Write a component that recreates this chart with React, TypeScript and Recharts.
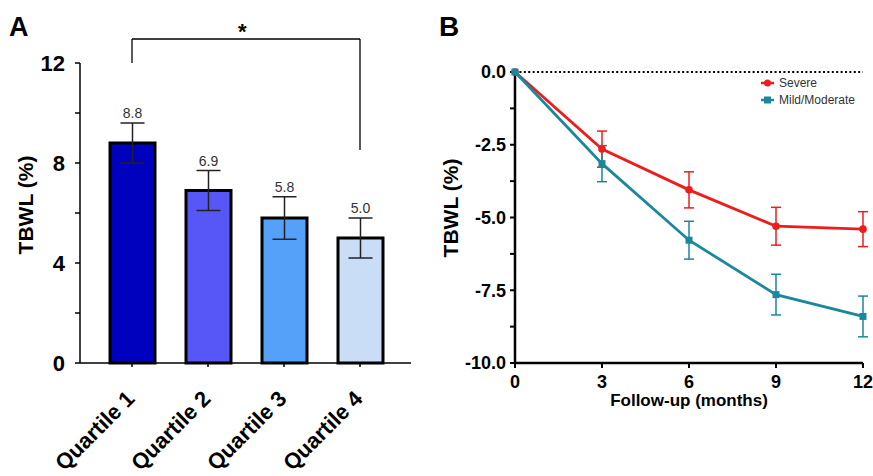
import React from "react";
import {
  BarChart,
  Bar,
  Cell,
  XAxis,
  YAxis,
  ErrorBar,
  LabelList,
  ReferenceLine,
  LineChart,
  Line,
  Legend,
} from "recharts";

// Panel A
const quartiles = ["Quartile 1", "Quartile 2", "Quartile 3", "Quartile 4"];
const tbwlMeans = [8.8, 6.9, 5.8, 5.0];
const tbwlErrors = [0.8, 0.8, 0.85, 0.8];
const barColors = ["#0000BF", "#5757F7", "#55A0F9", "#C9DDF6"];
const barTicks = [0, 2, 4, 6, 8, 10, 12];

// Panel B
const months = [0, 3, 6, 9, 12];
const severeMeans = [0, -2.65, -4.05, -5.3, -5.4];
const severeErrors = [0, 0.62, 0.62, 0.65, 0.6];
const mildMeans = [0, -3.15, -5.78, -7.65, -8.4];
const mildErrors = [0, 0.62, 0.65, 0.7, 0.7];
const lineYTicks = [0, -1.25, -2.5, -3.75, -5, -6.25, -7.5, -8.75, -10];

const FONT = "'Liberation Sans', Arial, Helvetica, sans-serif";
const RED = "#EE1C1C";
const TEAL = "#1A879C";

const barData = quartiles.map((q, i) => ({
  name: q,
  value: tbwlMeans[i],
  err: tbwlErrors[i],
}));

const lineData = months.map((m, i) => ({
  month: m,
  severe: severeMeans[i],
  severeErr: severeErrors[i],
  mild: mildMeans[i],
  mildErr: mildErrors[i],
}));

const QuartileTick = ({ x, y, payload }: any) => (
  <text
    x={x + 4}
    y={y + 31}
    transform={`rotate(-45, ${x + 4}, ${y + 31})`}
    textAnchor="end"
    fontFamily={FONT}
    fontWeight="bold"
    fontSize={22}
    fill="#000"
  >
    {payload.value}
  </text>
);

// value label sits just above the error bar cap
const ValueLabel = (props: any) => {
  const { x, y, width, height, value, index } = props;
  const pxPerUnit = height / value;
  const capY = y - tbwlErrors[index] * pxPerUnit;
  return (
    <text
      x={x + width / 2}
      y={capY - 5}
      textAnchor="middle"
      fontFamily={FONT}
      fontSize={14}
      fill="#333"
    >
      {value.toFixed(1)}
    </text>
  );
};

const SquareDot = (props: any) => {
  const { cx, cy, index } = props;
  return <rect key={index} x={cx - 3.5} y={cy - 3.5} width={7} height={7} fill={TEAL} />;
};

const RoundDot = (props: any) => {
  const { cx, cy, index } = props;
  return <circle key={index} cx={cx} cy={cy} r={3.8} fill={RED} />;
};

const LegendContent = ({ payload }: any) => {
  const items = [...(payload || [])].sort((a: any, b: any) =>
    a.dataKey === "severe" ? -1 : b.dataKey === "severe" ? 1 : 0
  );
  return (
    <div style={{ fontFamily: FONT, fontSize: 12, color: "#333" }}>
      {items.map((entry: any) => (
        <div key={entry.value} style={{ display: "flex", alignItems: "center", height: 17 }}>
          <svg width={16} height={10} style={{ marginRight: 3 }}>
            <line x1={1} y1={5} x2={14} y2={5} stroke={entry.color} strokeWidth={2.5} />
            {entry.dataKey === "severe" ? (
              <circle cx={7.5} cy={5} r={3.5} fill={entry.color} />
            ) : (
              <rect x={4} y={1.5} width={7} height={7} fill={entry.color} />
            )}
          </svg>
          <span>{entry.value}</span>
        </div>
      ))}
    </div>
  );
};

const abs = (left: number, top: number, style: React.CSSProperties = {}): React.CSSProperties => ({
  position: "absolute",
  left,
  top,
  fontFamily: FONT,
  fontWeight: "bold",
  color: "#000",
  whiteSpace: "nowrap",
  lineHeight: 1,
  ...style,
});

export default function App() {
  return (
    <div
      style={{
        position: "absolute",
        left: 0,
        top: 0,
        width: 873,
        height: 476,
        background: "#fff",
        overflow: "hidden",
      }}
    >
      <div style={{ position: "absolute", left: 0, top: 0 }}>
        <BarChart
          width={440}
          height={476}
          data={barData}
          margin={{ top: 63, right: 29, left: 0, bottom: 0 }}
        >
          <XAxis
            dataKey="name"
            height={113}
            padding={{ left: 14, right: 13 }}
            axisLine={{ stroke: "#000", strokeWidth: 1.5 }}
            tickLine={{ stroke: "#000", strokeWidth: 1.5 }}
            tickSize={4}
            tick={<QuartileTick />}
            interval={0}
          />
          <YAxis
            domain={[0, 12]}
            ticks={barTicks}
            width={80}
            axisLine={{ stroke: "#000", strokeWidth: 1.5 }}
            tickLine={{ stroke: "#000", strokeWidth: 1.5 }}
            tickSize={5}
            tickMargin={10}
            tickFormatter={(v: number) => (v % 4 === 0 ? String(v) : "")}
            tick={{ fill: "#000", fontSize: 22, fontWeight: "bold", fontFamily: FONT }}
          />
          <ReferenceLine
            segment={[
              { x: "Quartile 1", y: 12 },
              { x: "Quartile 1", y: 12.96 },
            ]}
            stroke="#000"
            strokeWidth={1.3}
            ifOverflow="visible"
          />
          <ReferenceLine
            segment={[
              { x: "Quartile 1", y: 12.96 },
              { x: "Quartile 4", y: 12.96 },
            ]}
            stroke="#000"
            strokeWidth={1.3}
            ifOverflow="visible"
          />
          <ReferenceLine
            segment={[
              { x: "Quartile 4", y: 12.96 },
              { x: "Quartile 4", y: 8.52 },
            ]}
            stroke="#000"
            strokeWidth={1.3}
            ifOverflow="visible"
          />
          <Bar dataKey="value" barSize={45} stroke="#000" strokeWidth={3} isAnimationActive={false}>
            {barData.map((d, i) => (
              <Cell key={d.name} fill={barColors[i]} />
            ))}
            <ErrorBar dataKey="err" width={12} stroke="#222" strokeWidth={1.5} direction="y" />
            <LabelList dataKey="value" content={<ValueLabel />} />
          </Bar>
        </BarChart>
      </div>

      <div style={{ position: "absolute", left: 440, top: 0 }}>
        <LineChart
          width={433}
          height={476}
          data={lineData}
          margin={{ top: 72, right: 10, left: 0, bottom: 0 }}
        >
          <XAxis
            dataKey="month"
            type="number"
            domain={[0, 12]}
            ticks={months}
            height={113}
            axisLine={{ stroke: "#000", strokeWidth: 2.5 }}
            tickLine={{ stroke: "#000", strokeWidth: 2 }}
            tickSize={5}
            tickMargin={7}
            tick={{ fill: "#000", fontSize: 18, fontWeight: "bold", fontFamily: FONT }}
          />
          <YAxis
            domain={[-10, 0]}
            ticks={lineYTicks}
            width={75}
            axisLine={{ stroke: "#000", strokeWidth: 2.5 }}
            tickLine={{ stroke: "#000", strokeWidth: 2 }}
            tickSize={5}
            tickMargin={4}
            tickFormatter={(v: number) =>
              Math.abs(v % 2.5) < 1e-9 ? (v === 0 ? "0.0" : v.toFixed(1)) : ""
            }
            tick={{ fill: "#000", fontSize: 18, fontWeight: "bold", fontFamily: FONT }}
          />
          <ReferenceLine y={0} stroke="#000" strokeWidth={2} strokeDasharray="2 2.4" />
          <Legend
            verticalAlign="middle"
            align="center"
            layout="horizontal"
            content={<LegendContent />}
            wrapperStyle={{ top: 74, left: 320, width: 110 }}
          />
          <Line
            name="Severe"
            dataKey="severe"
            stroke={RED}
            strokeWidth={2.8}
            dot={<RoundDot />}
            activeDot={false}
            isAnimationActive={false}
          >
            <ErrorBar dataKey="severeErr" width={5} stroke={RED} strokeWidth={1.5} direction="y" />
          </Line>
          <Line
            name="Mild/Moderate"
            dataKey="mild"
            stroke={TEAL}
            strokeWidth={2.8}
            dot={<SquareDot />}
            activeDot={false}
            isAnimationActive={false}
          >
            <ErrorBar dataKey="mildErr" width={5} stroke={TEAL} strokeWidth={1.5} direction="y" />
          </Line>
        </LineChart>
      </div>

      <div style={abs(9, 14, { fontSize: 27 })}>A</div>
      <div style={abs(439, 13, { fontSize: 28 })}>B</div>
      <div style={abs(238, 21, { fontSize: 22 })}>*</div>
      <div
        style={abs(25, 205, {
          fontSize: 21,
          transform: "translate(-50%, -50%) rotate(-90deg)",
        })}
      >
        TBWL (%)
      </div>
      <div
        style={abs(450, 208, {
          fontSize: 21,
          transform: "translate(-50%, -50%) rotate(-90deg)",
        })}
      >
        TBWL (%)
      </div>
      <div style={abs(689, 392, { fontSize: 17, transform: "translateX(-50%)" })}>
        Follow-up (months)
      </div>
    </div>
  );
}
